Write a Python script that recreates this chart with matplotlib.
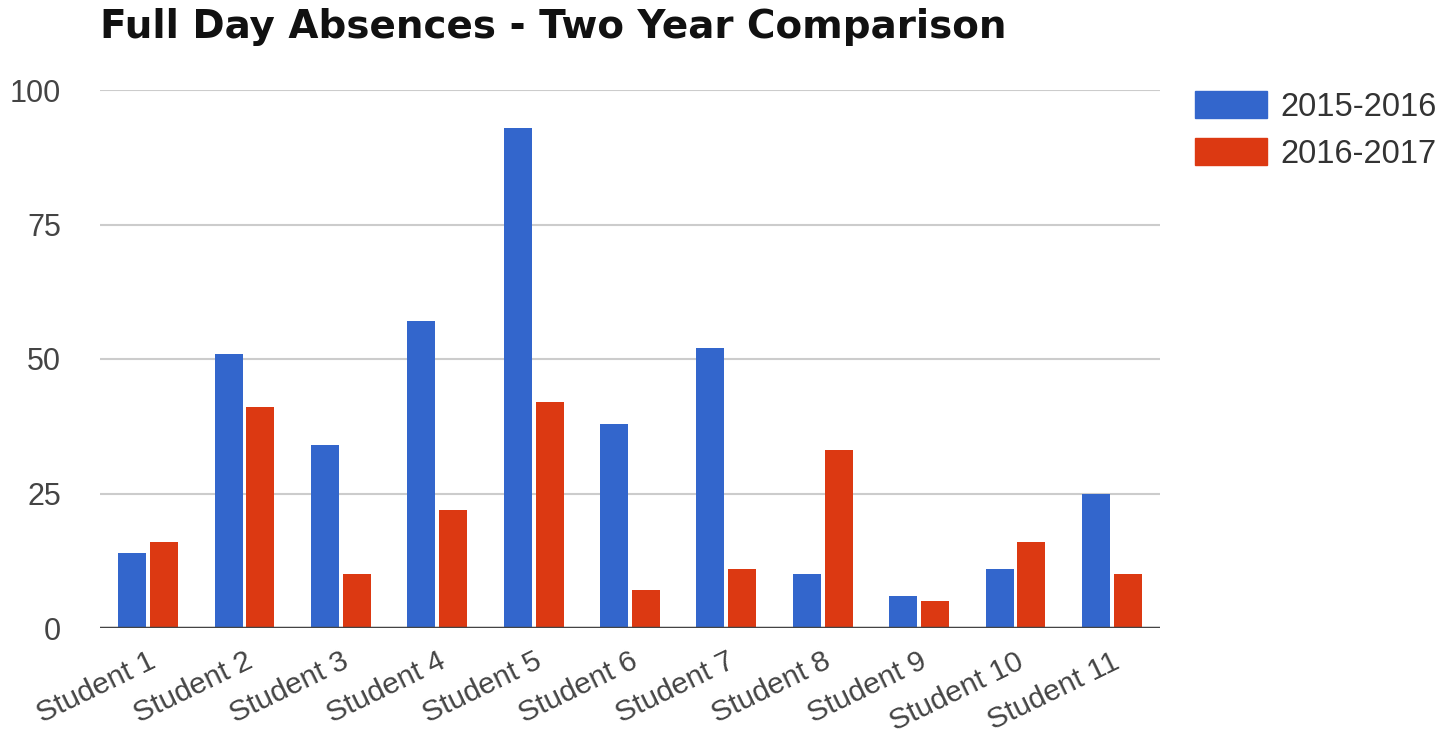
import numpy as np
import matplotlib.pyplot as plt
from matplotlib.patches import Patch

plt.rcParams['font.family'] = ['Liberation Sans', 'DejaVu Sans']

students = ['Student 1', 'Student 2', 'Student 3', 'Student 4', 'Student 5', 'Student 6',
            'Student 7', 'Student 8', 'Student 9', 'Student 10', 'Student 11']
absences_2015 = [14, 51, 34, 57, 93, 38, 52, 10, 6, 11, 25]
absences_2016 = [16, 41, 10, 22, 42, 7, 11, 33, 5, 16, 10]
years = ['2015-2016', '2016-2017']

blue = '#3366cc'
red = '#dc3912'

fig = plt.figure(figsize=(14.56, 7.36), dpi=100)
ax = fig.add_axes([100 / 1456, 1 - 628 / 736, 1060 / 1456, 538 / 736])

x = np.arange(len(students))
w = 0.29
ax.bar(x - 0.165, absences_2015, width=w, color=blue, zorder=3)
ax.bar(x + 0.165, absences_2016, width=w, color=red, zorder=3)

ax.set_xlim(-0.5, len(students) - 0.5)
ax.set_ylim(0, 100)
ax.set_yticks([0, 25, 50, 75, 100])
ax.yaxis.grid(True, color='#cccccc', linewidth=1.5, zorder=0)
ax.axhline(0, color='#444444', linewidth=2.5, zorder=4)

for s in ax.spines.values():
    s.set_visible(False)
ax.tick_params(axis='both', length=0, colors='#444444')
ax.tick_params(axis='y', labelsize=22, pad=28)
ax.set_xticks(x)
ax.set_xticklabels(students, rotation=26, ha='right', va='top', rotation_mode='anchor',
                   fontsize=21.5)
ax.tick_params(axis='x', pad=14)

fig.text(100 / 1456, 1 - 27 / 736, 'Full Day Absences - Two Year Comparison',
         family='DejaVu Sans', fontsize=28, fontweight='bold', color='#111111',
         va='center', ha='left')

handles = [Patch(color=blue), Patch(color=red)]
fig.legend(handles, years, loc='upper left', bbox_to_anchor=(1166 / 1456, 1 - 62 / 736),
           frameon=False, fontsize=23.5, handlelength=2.2, handleheight=0.9,
           handletextpad=0.4, labelspacing=0.45, labelcolor='#333333')

fig.savefig('out.png', dpi=100)
